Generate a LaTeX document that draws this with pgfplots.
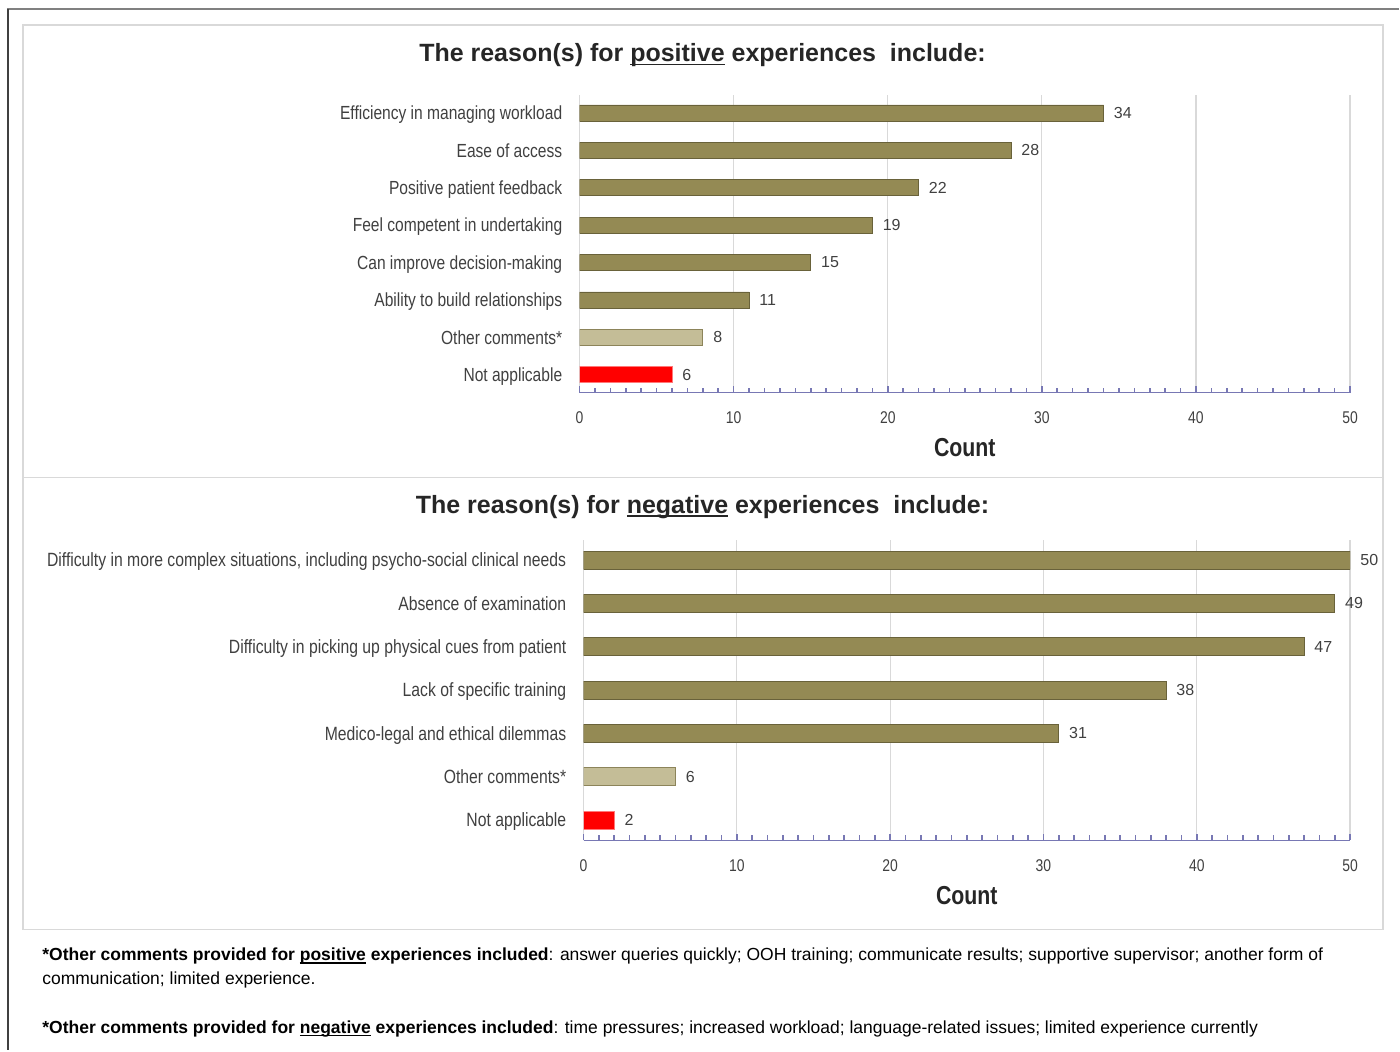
\documentclass[border=0pt]{standalone}
\usepackage{fontspec}
\setmainfont{Liberation Sans}
\newfontfamily\narrow[FakeStretch=0.82]{Liberation Sans}
\usepackage{pgfplots}
\pgfplotsset{compat=1.18}

\definecolor{olive}{RGB}{148,138,84}
\definecolor{oliveedge}{RGB}{105,98,58}
\definecolor{sand}{RGB}{196,189,151}
\definecolor{sandedge}{RGB}{140,132,90}
\definecolor{redfill}{RGB}{255,0,0}
\definecolor{rededge}{RGB}{255,120,120}
\definecolor{axisblue}{RGB}{120,120,180}
\definecolor{gridgray}{RGB}{217,217,217}
\definecolor{txt}{RGB}{64,64,64}
\definecolor{ttl}{RGB}{38,38,38}

% underline that sits close to the baseline
\newcommand{\ul}[1]{\setbox0\hbox{#1}\rlap{\rule[-1.6pt]{\wd0}{0.7pt}}\box0\relax}

\pgfplotsset{
  panel/.style={
    scale only axis, anchor=south west,
    xbar, bar shift=0pt,
    xmin=0, xmax=50, xtick={0,10,...,50}, minor x tick num=9,
    axis x line*=bottom, axis y line*=left,
    x axis line style={-, axisblue, line width=0.7pt},
    y axis line style={draw=none}, ytick style={draw=none},
    tick align=inside,
    major tick length=3.4pt, minor tick length=2.5pt,
    xtick style={axisblue, line width=0.8pt},
    minor x tick style={axisblue, line width=0.8pt},
    xmajorgrids, major grid style={gridgray, line width=0.6pt},
    /pgf/number format/assume math mode=true,
    xticklabel style={font=\narrow\fontsize{8.5}{10}\selectfont, text=txt, inner sep=0pt, yshift=-9.5pt},
    yticklabel style={text=txt, anchor=base east, inner sep=0pt, xshift=-8.5pt, yshift=-3.4pt},
    xlabel={Count},
    xlabel style={font=\narrow\bfseries\fontsize{13}{15}\selectfont, text=ttl,
      at={(axis description cs:0.5,0)}, anchor=center, yshift=-27.5pt},
    nodes near coords,
    nodes near coords style={font=\fontsize{8}{10}\selectfont, text=txt, anchor=west, inner sep=0pt, xshift=5pt},
  },
}

\begin{document}
\begin{tikzpicture}
\begin{scope}[x=0.5pt, y=-0.5pt]
  \path (0,0) rectangle (1400,1051);
  \draw[black!50, line width=1pt] (7,9) -- (1400,9);
  \draw[black!75, line width=0.8pt] (8,8.5) -- (8,1051);
  \draw[gridgray, line width=0.6pt] (23,25) rectangle (1384,478);
  \draw[gridgray, line width=0.6pt] (23,478) rectangle (1384,930);
  \node[anchor=base, inner sep=0pt, font=\bfseries\fontsize{12.5}{14}\selectfont, text=ttl] at (703,62)
    {The reason(s) for \ul{positive} experiences\ \ include:};
  \node[anchor=base, inner sep=0pt, font=\bfseries\fontsize{12.5}{14}\selectfont, text=ttl] at (703,514)
    {The reason(s) for \ul{negative} experiences\ \ include:};
  \node[anchor=base west, inner sep=0pt, font=\fontsize{8.75}{10}\selectfont] at (42,961)
    {\textbf{*Other comments provided for \ul{positive} experiences included}: answer queries quickly; OOH training; communicate results; supportive supervisor; another form of};
  \node[anchor=base west, inner sep=0pt, font=\fontsize{8.75}{10}\selectfont] at (42,985)
    {communication; limited experience.};
  \node[anchor=base west, inner sep=0pt, font=\fontsize{8.75}{10}\selectfont] at (42,1034)
    {\textbf{*Other comments provided for \ul{negative} experiences included}: time pressures; increased workload; language-related issues; limited experience currently};
\end{scope}

% positive experiences
\begin{axis}[panel,
  at={(290pt,-196.5pt)},
  width=385.5pt, height=149pt,
  ymin=-0.48, ymax=7.48,
  bar width=8pt,
  ytick={0,...,7},
  yticklabel style={font=\narrow\fontsize{9.5}{11}\selectfont},
  yticklabels={Not applicable, Other comments*, Ability to build relationships,
    Can improve decision-making, Feel competent in undertaking,
    Positive patient feedback, Ease of access, Efficiency in managing workload},
]
\addplot[fill=olive, draw=oliveedge] coordinates {(34,7) (28,6) (22,5) (19,4) (15,3) (11,2)};
\addplot[fill=sand, draw=sandedge] coordinates {(8,1)};
\addplot[fill=redfill, draw=rededge] coordinates {(6,0)};
\end{axis}

% negative experiences
\begin{axis}[panel,
  at={(292pt,-420.5pt)},
  width=383.5pt, height=150.5pt,
  ymin=-0.47, ymax=6.47,
  bar width=9pt,
  ytick={0,...,6},
  yticklabel style={font=\narrow\fontsize{9.6}{11}\selectfont},
  yticklabels={Not applicable, Other comments*, Medico-legal and ethical dilemmas,
    Lack of specific training, Difficulty in picking up physical cues from patient,
    Absence of examination,
    {Difficulty in more complex situations, including psycho-social clinical needs}},
]
\addplot[fill=olive, draw=oliveedge] coordinates {(50,6) (49,5) (47,4) (38,3) (31,2)};
\addplot[fill=sand, draw=sandedge] coordinates {(6,1)};
\addplot[fill=redfill, draw=rededge] coordinates {(2,0)};
\end{axis}
\end{tikzpicture}
\end{document}
